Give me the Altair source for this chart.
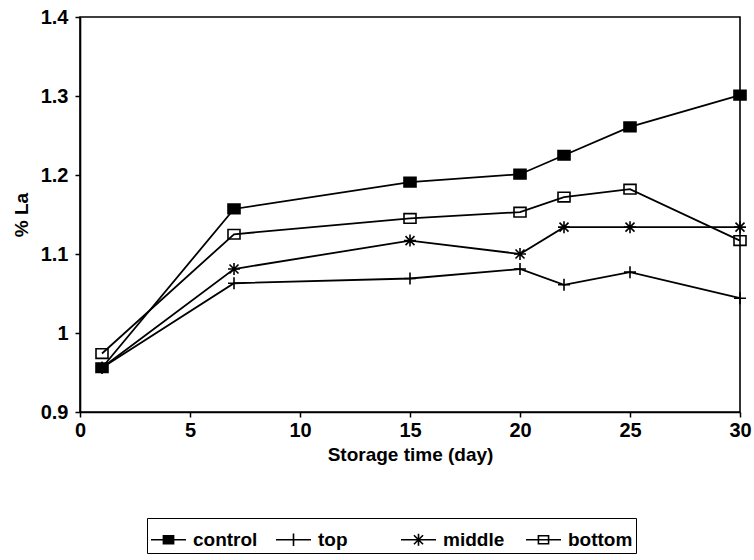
import altair as alt
import pandas as pd

# ---- data ----
days = [1, 7, 15, 20, 22, 25, 30]
control = [0.956, 1.157, 1.191, 1.201, 1.225, 1.261, 1.301]
top = [0.956, 1.063, 1.069, 1.081, 1.061, 1.077, 1.044]
middle = [0.956, 1.081, 1.117, 1.100, 1.134, 1.134, 1.134]
bottom = [0.974, 1.125, 1.145, 1.153, 1.172, 1.182, 1.117]
series_names = ["control", "top", "middle", "bottom"]
x_ticks = [0, 5, 10, 15, 20, 25, 30]
y_ticks = [0.9, 1.0, 1.1, 1.2, 1.3, 1.4]

rows = []
for name, vals in zip(series_names, [control, top, middle, bottom]):
    for d, v in zip(days, vals):
        rows.append({"day": d, "value": v, "series": name})
df = pd.DataFrame(rows)

RECT = "M-1,-0.8H1V0.8H-1Z"
marker_paths = [
    RECT,
    "M-1,0H1M0,-1V1",
    "M-1,0H1M0,-1V1M-0.75,-0.75L0.75,0.75M-0.75,0.75L0.75,-0.75",
    RECT,
]
legend_paths = [
    "M-1,0H1M-0.29,-0.23H0.29V0.23H-0.29Z",
    "M-1,0H1M0,-0.36V0.36",
    "M-1,0H1M0,-0.34V0.34M-0.26,-0.26L0.26,0.26M-0.26,0.26L0.26,-0.26",
    "M-1,0H1M-0.29,-0.23H0.29V0.23H-0.29Z",
]
fills = ["black", "transparent", "transparent", "transparent"]
strokes = ["black", "black", "black", "black"]

FONT = "Liberation Sans"

x_enc = alt.X(
    "day:Q",
    scale=alt.Scale(domain=[0, 30], nice=False),
    axis=alt.Axis(values=x_ticks, title="Storage time (day)", labelPadding=3,
                  titlePadding=5, labelFlush=False),
)
y_enc = alt.Y(
    "value:Q",
    scale=alt.Scale(domain=[0.9, 1.4], nice=False, zero=False),
    axis=alt.Axis(values=y_ticks, format="~g", title="% La", labelPadding=7,
                  titlePadding=9, labelFlush=False),
)

lines = alt.Chart(df).mark_line(color="black", strokeWidth=1.8).encode(
    x=x_enc, y=y_enc, detail="series:N", order="day:Q"
)

points = alt.Chart(df).mark_point(stroke="black", strokeWidth=1.6, size=144, opacity=1).encode(
    x=x_enc,
    y=y_enc,
    shape=alt.Shape("series:N", scale=alt.Scale(domain=series_names, range=marker_paths), legend=None),
    fill=alt.Fill("series:N", scale=alt.Scale(domain=series_names, range=fills), legend=None),
)

leg = dict(
    orient="none", legendX=67, legendY=501, direction="horizontal", columns=4,
    gridAlign="all", title=None, symbolSize=1225, symbolStrokeWidth=1.6,
    symbolStrokeColor="black", labelFont=FONT, labelFontWeight="bold",
    labelFontSize=19, labelColor="black", labelOffset=6, columnPadding=14,
    strokeColor="black", padding=3,
)

legend_layer = alt.Chart(df).transform_filter("false").mark_point(
    strokeWidth=1.6, opacity=1
).encode(
    x=x_enc,
    y=y_enc,
    shape=alt.Shape("series:N", scale=alt.Scale(domain=series_names, range=legend_paths),
                    legend=alt.Legend(**leg)),
    fill=alt.Fill("series:N", scale=alt.Scale(domain=series_names, range=fills),
                  legend=alt.Legend(**leg)),
    stroke=alt.Stroke("series:N", scale=alt.Scale(domain=series_names, range=strokes),
                      legend=alt.Legend(**leg)),
)

chart = (
    alt.layer(lines, points, legend_layer)
    .resolve_scale(shape="independent", fill="independent", stroke="independent")
    .properties(
        width=660, height=395,
        autosize=alt.AutoSizeParams(type="none"),
        padding={"left": 80, "top": 17, "right": 14, "bottom": 148},
        background="white",
    )
    .configure_view(stroke="black", strokeWidth=1.6)
    .configure_axis(
        grid=False, domainColor="black", domainWidth=1.6, tickColor="black",
        tickWidth=1.5, tickSize=5, labelFont=FONT, labelFontWeight="bold",
        labelFontSize=20, labelColor="black", titleFont=FONT, titleFontWeight="bold",
        titleFontSize=19, titleColor="black",
    )
)

chart.save("out.html", embed_options={"renderer": "svg", "actions": False})
